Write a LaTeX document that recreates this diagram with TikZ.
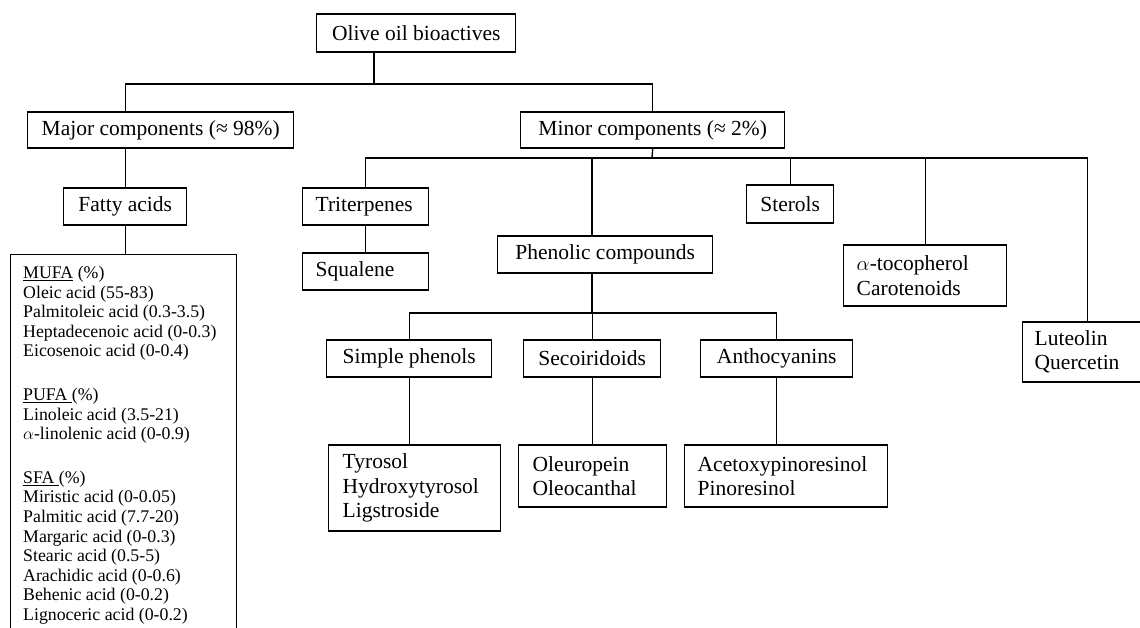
\documentclass[tikz,border=0pt]{standalone}
\usepackage{fontspec}
\setmainfont{Liberation Serif}
\newcommand{\lab}{\fontsize{21.5}{24.5}\selectfont}
\newcommand{\sml}{\fontsize{17.8}{19.6}\selectfont}
\tikzset{
  box/.style={draw, line width=1.4pt, inner ysep=0pt, font=\lab, anchor=west},
  cbox/.style={box, align=center},
  lbox/.style={box, align=left, inner xsep=13pt},
  conn/.style={line width=1.4pt}
}
\begin{document}
\begin{tikzpicture}[x=1pt,y=-1pt]
\useasboundingbox[fill=white] (0,0) rectangle (1140,628);
\begin{scope}
\clip (0,0) rectangle (1140,628);
% top levels
\node[cbox, minimum width=199pt, minimum height=38pt] (root) at (316,33) {Olive oil bioactives};
\node[cbox, minimum width=266pt, minimum height=36pt] (major) at (27,130) {Major components (≈ 98\%)};
\node[cbox, minimum width=264pt, minimum height=36pt] (minor) at (520,130) {Minor components (≈ 2\%)};
% major branch
\node[cbox, minimum width=123pt, minimum height=37pt] (fatty) at (63,206.5) {Fatty acids};
\node[draw, line width=1.4pt, anchor=north west, minimum width=226pt, minimum height=420pt, inner sep=0pt] (fa) at (10,254) {};
\node[anchor=north west, align=left, inner sep=0pt, font=\sml] (fatext) at (23,266) {%
\underline{MUFA} (\%)\\
Oleic acid (55-83)\\
Palmitoleic acid (0.3-3.5)\\
Heptadecenoic acid (0-0.3)\\
Eicosenoic acid (0-0.4)\\[24pt]
\underline{PUFA\ }(\%)\\
Linoleic acid (3.5-21)\\
$\alpha$-linolenic acid (0-0.9)\\[24pt]
\underline{SFA\ }(\%)\\
Miristic acid (0-0.05)\\
Palmitic acid (7.7-20)\\
Margaric acid (0-0.3)\\
Stearic acid (0.5-5)\\
Arachidic acid (0-0.6)\\
Behenic acid (0-0.2)\\
Lignoceric acid (0-0.2)};
% minor branch
\node[lbox, text width=100pt, minimum height=37pt] (trit) at (302,206.5) {Triterpenes};
\node[lbox, text width=100pt, minimum height=37pt] (squa) at (302,271.5) {Squalene};
\node[cbox, minimum width=215pt, minimum height=37pt] (phen) at (497,254.5) {Phenolic compounds};
\node[cbox, minimum width=87pt, minimum height=38pt] (ster) at (746,204) {Sterols};
\node[lbox, text width=137pt, minimum height=61pt] (alpha) at (843,275.5) {$\alpha$-tocopherol\\Carotenoids};
\node[lbox, inner xsep=12pt, text width=106pt, minimum height=60pt] (lut) at (1022,352) {Luteolin\\Quercetin};
% phenolic branch
\node[cbox, minimum width=165pt, minimum height=37pt] (simple) at (326,358.5) {Simple phenols};
\node[cbox, minimum width=137pt, minimum height=37pt] (seco) at (523,358.5) {Secoiridoids};
\node[cbox, minimum width=152pt, minimum height=37pt] (antho) at (700,358.5) {Anthocyanins};
\node[lbox, inner xsep=14pt, text width=144pt, minimum height=86pt] (tyr) at (328,488) {Tyrosol\\Hydroxytyrosol\\Ligstroside};
\node[lbox, inner xsep=14pt, text width=120pt, minimum height=62pt] (oleu) at (518,476) {Oleuropein\\Oleocanthal};
\node[lbox, text width=177pt, minimum height=62pt] (acet) at (684,476) {Acetoxypinoresinol\\Pinoresinol};
% junctions
\coordinate (j1) at (374,84);
\coordinate (j2) at (652,158);
\coordinate (j3) at (592,313);
% connectors
\draw[conn] (root.south -| j1) -- (j1);
\draw[conn] (major.north -| fatty.north) |- (j1) -| (minor.north);
\draw[conn] (major.south -| fatty.north) -- (fatty.north);
\draw[conn] (fatty.south) -- (fatty.south |- fa.north);
\draw[conn] (minor.south) -- (j2);
\draw[conn] (trit.north) |- (j2) -| (lut.north);
\draw[conn] (ster.north) -- (ster.north |- j2);
\draw[conn] (alpha.north) -- (alpha.north |- j2);
\draw[conn] (phen.north -| j3) -- (j2 -| j3);
\draw[conn] (trit.south) -- (squa.north);
\draw[conn] (phen.south -| j3) -- (j3);
\draw[conn] (simple.north) |- (j3) -| (antho.north);
\draw[conn] (seco.north) -- (seco.north |- j3);
\draw[conn] (simple.south) -- (simple.south |- tyr.north);
\draw[conn] (seco.south) -- (seco.south |- oleu.north);
\draw[conn] (antho.south) -- (antho.south |- acet.north);
\end{scope}
\end{tikzpicture}
\end{document}
